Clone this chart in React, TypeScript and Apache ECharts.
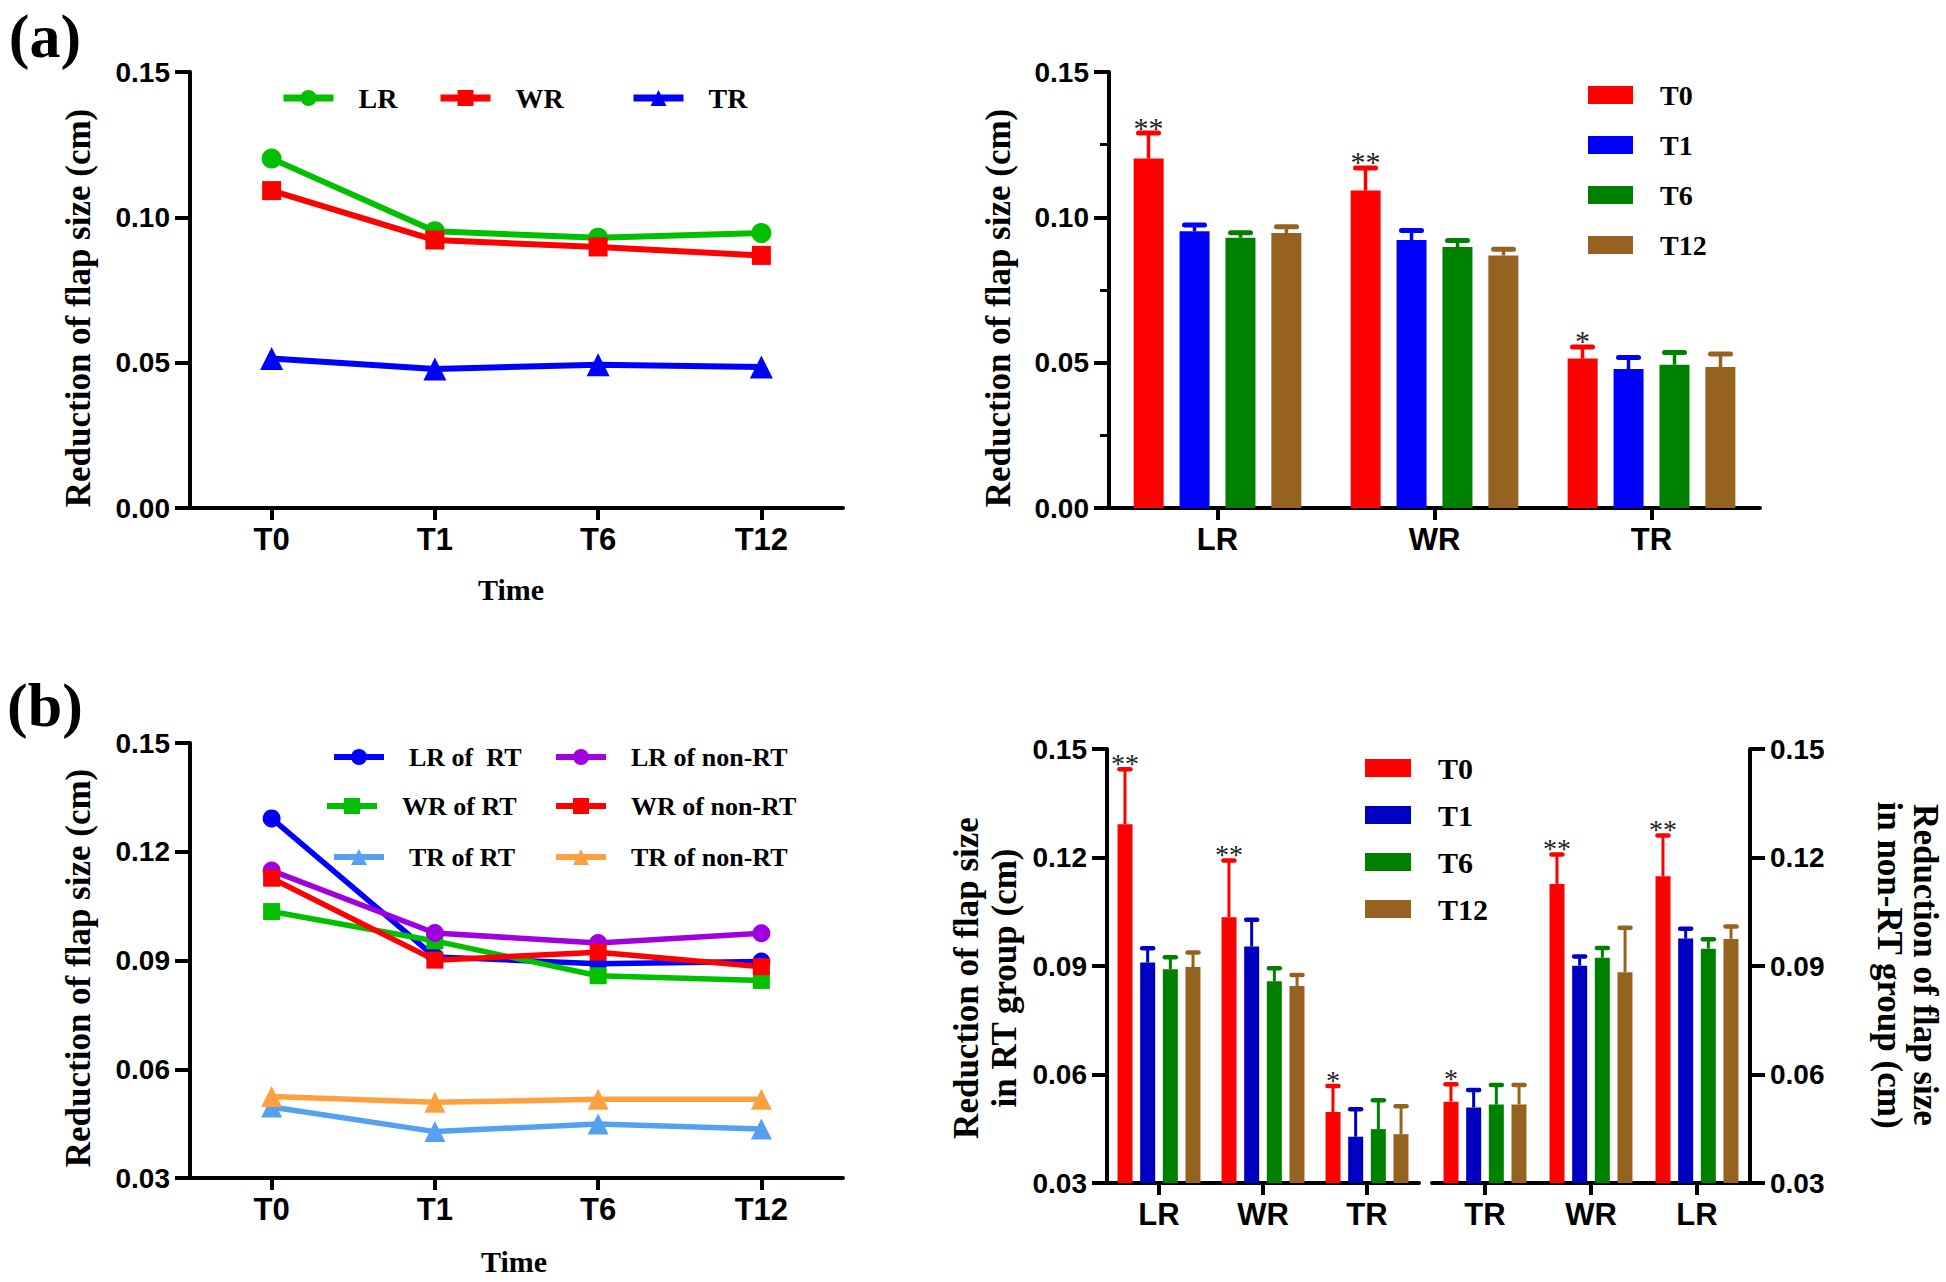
import React, { useEffect, useRef } from 'react';
import * as echarts from 'echarts';

// ---------- data ----------
const timePoints = ['T0', 'T1', 'T6', 'T12'];
const regionsA = ['LR', 'WR', 'TR'];
const regionsRT = ['LR', 'WR', 'TR'];
const regionsNonRT = ['TR', 'WR', 'LR'];
const yRangeA = [0, 0.15, 0.05];
const yRangeB = [0.03, 0.15, 0.03];

// panel (a): means over time
const aLR = [0.1202, 0.0952, 0.093, 0.0946];
const aWR = [0.1092, 0.0922, 0.0898, 0.0869];
const aTR = [0.0514, 0.0478, 0.0493, 0.0485];
// panel (a): error (SD) over time
const aLRsd = [0.0088, 0.0022, 0.0017, 0.0022];
const aWRsd = [0.0078, 0.0033, 0.0022, 0.0021];
const aTRsd = [0.004, 0.004, 0.0042, 0.0045];
const aSig = ['**', '**', '*'];

// panel (b): RT group
const rtLR = [0.1292, 0.091, 0.0891, 0.0897];
const rtWR = [0.1035, 0.0954, 0.0858, 0.0845];
const rtTR = [0.0496, 0.0428, 0.0449, 0.0435];
const rtLRsd = [0.0152, 0.0039, 0.0033, 0.004];
const rtWRsd = [0.0157, 0.0074, 0.0036, 0.003];
const rtTRsd = [0.0072, 0.0076, 0.008, 0.0077];
const rtSig = ['**', '**', '*'];
// panel (b): non-RT group
const nonLR = [0.1148, 0.0976, 0.0948, 0.0975];
const nonWR = [0.1127, 0.0901, 0.0923, 0.0883];
const nonTR = [0.0525, 0.0509, 0.0517, 0.0517];
const nonLRsd = [0.0113, 0.0027, 0.0026, 0.0034];
const nonWRsd = [0.0081, 0.0025, 0.0027, 0.0123];
const nonTRsd = [0.0048, 0.0048, 0.0054, 0.0054];
const nonSig = ['*', '**', '**'];

const lineNamesA = ['LR', 'WR', 'TR'];
const lineNamesB = ['LR of  RT', 'WR of RT', 'TR of RT', 'LR of non-RT', 'WR of non-RT', 'TR of non-RT'];

// ---------- styles ----------
const SANS = '"Liberation Sans", Arial, sans-serif';
const SERIF = '"Liberation Serif", "Times New Roman", serif';
const barColorsA = ['#FF0000', '#0000FF', '#008000', '#956220'];
const barColorsB = ['#FF0000', '#0000C0', '#008000', '#956220'];
const lineColorsA = ['#00C000', '#FF0000', '#0000FF'];
const lineColorsB = ['#0000FF', '#00C000', '#55A0F0', '#A000E0', '#FF0000', '#FFA040'];
const symbolsA = ['circle', 'rect', 'triangle'];
const symbolsB = ['circle', 'rect', 'triangle', 'circle', 'rect', 'triangle'];

const AX = 4;

function xAxisOf(gridIndex: number, data: string[]) {
  return {
    type: 'category', gridIndex, data, boundaryGap: true,
    axisLine: { show: true, lineStyle: { color: '#000', width: AX } },
    axisTick: { show: true, alignWithLabel: true, length: 12, lineStyle: { color: '#000', width: AX } },
    axisLabel: { color: '#000', fontFamily: SANS, fontWeight: 'bold', fontSize: 31, margin: 16 },
    splitLine: { show: false },
  };
}

function yAxisOf(gridIndex: number, range: number[], position = 'left', minor = false) {
  return {
    type: 'value', gridIndex, position, min: range[0], max: range[1], interval: range[2],
    axisLine: { show: true, onZero: false, lineStyle: { color: '#000', width: AX } },
    axisTick: { show: true, length: 15, lineStyle: { color: '#000', width: AX } },
    minorTick: { show: minor, splitNumber: 2, length: 9, lineStyle: { color: '#000', width: 3 } },
    axisLabel: {
      color: '#000', fontFamily: SANS, fontWeight: 'bold', fontSize: 28, margin: 20,
      formatter: (v: number) => v.toFixed(2),
    },
    splitLine: { show: false },
  };
}

function barSeries(name: string, axis: number, values: number[], color: string, bw: number, gap: string) {
  return {
    type: 'bar', name, xAxisIndex: axis, yAxisIndex: axis, data: values,
    barWidth: bw, barGap: gap, itemStyle: { color }, z: 2,
  };
}

function errSeries(axis: number, k: number, values: number[], sd: number[], color: string,
  bw: number, gapPx: number, lw: number, capW: number, sigs: string[] | null, sigSize: number) {
  return {
    type: 'custom', xAxisIndex: axis, yAxisIndex: axis, silent: true, z: 5,
    data: values.map((v, i) => [i, v, sd[i]]),
    encode: { x: 0, y: 1 },
    renderItem: (params: any, api: any) => {
      const i = api.value(0);
      const v = api.value(1);
      const e = api.value(2);
      const base = api.coord([i, v]);
      const top = api.coord([i, v + e]);
      const x = base[0] + (k - 1.5) * (bw + gapPx);
      const children: any[] = [
        { type: 'line', shape: { x1: x, y1: base[1], x2: x, y2: top[1] }, style: { stroke: color, lineWidth: lw } },
        { type: 'line', shape: { x1: x - capW / 2, y1: top[1], x2: x + capW / 2, y2: top[1] }, style: { stroke: color, lineWidth: lw + 1.5, lineCap: 'round' } },
      ];
      const s = sigs ? sigs[params.dataIndex] : '';
      if (s) {
        children.push({
          type: 'text', x, y: top[1] - 6,
          style: {
            text: s, fill: '#222', font: `${sigSize}px ${SERIF}`,
            align: 'center', verticalAlign: 'middle', textAlign: 'center', textVerticalAlign: 'middle',
          },
        });
      }
      return { type: 'group', children };
    },
  };
}

function lineSeries(name: string, values: number[], color: string, symbol: string, size: number, width: number, axis: number) {
  return {
    type: 'line', name, xAxisIndex: axis, yAxisIndex: axis, data: values,
    symbol, symbolSize: symbol === 'triangle' ? size + 3 : symbol === 'rect' ? size - 1 : size,
    lineStyle: { color, width }, itemStyle: { color }, z: 3,
  };
}

function lineLegend(name: string, left: number, cy: number, fs: number, lw: number) {
  return {
    data: [name], left, top: cy - fs / 2, orient: 'horizontal', padding: 0,
    itemWidth: 50, itemHeight: 20, itemGap: 0, selectedMode: false,
    lineStyle: { width: lw },
    textStyle: { fontFamily: SERIF, fontWeight: 'bold', fontSize: fs, color: '#000', padding: [0, 0, 0, 20] },
  };
}

function txt(text: string, x: number, y: number, size: number, rotation = 0, weight = 'bold') {
  return {
    type: 'text', x, y, rotation,
    style: {
      text, fill: '#000', font: `${weight} ${size}px ${SERIF}`,
      align: 'center', verticalAlign: 'middle', textAlign: 'center', textVerticalAlign: 'middle',
    },
  };
}

function buildOption() {
  const series: any[] = [];
  // (a) left lines
  const aLines = [aLR, aWR, aTR];
  aLines.forEach((vals, j) => series.push(lineSeries(lineNamesA[j], vals, lineColorsA[j], symbolsA[j], 20, 6, 0)));
  // (a) right bars
  const aSD = [aLRsd, aWRsd, aTRsd];
  timePoints.forEach((t, k) => {
    const vals = aLines.map((arr) => arr[k]);
    const sds = aSD.map((arr) => arr[k]);
    series.push(barSeries(t, 1, vals, barColorsA[k], 30, '53%'));
    series.push(errSeries(1, k, vals, sds, barColorsA[k], 30, 16, 3.5, 20, k === 0 ? aSig : null, 30));
  });
  // (b) left lines
  const bLines = [rtLR, rtWR, rtTR, nonLR, nonWR, nonTR];
  bLines.forEach((vals, j) => series.push(lineSeries(lineNamesB[j], vals, lineColorsB[j], symbolsB[j], 18, 5.5, 2)));
  // (b) right bars
  const rtArr = [rtLR, rtWR, rtTR];
  const rtSD = [rtLRsd, rtWRsd, rtTRsd];
  const nonArr = [nonTR, nonWR, nonLR];
  const nonSD = [nonTRsd, nonWRsd, nonLRsd];
  timePoints.forEach((t, k) => {
    const v1 = rtArr.map((arr) => arr[k]);
    const s1 = rtSD.map((arr) => arr[k]);
    series.push(barSeries(t, 3, v1, barColorsB[k], 15, '51%'));
    series.push(errSeries(3, k, v1, s1, barColorsB[k], 15, 7.7, 3, 11, k === 0 ? rtSig : null, 28));
    const v2 = nonArr.map((arr) => arr[k]);
    const s2 = nonSD.map((arr) => arr[k]);
    series.push(barSeries(t, 4, v2, barColorsB[k], 15, '51%'));
    series.push(errSeries(4, k, v2, s2, barColorsB[k], 15, 7.7, 3, 11, k === 0 ? nonSig : null, 28));
  });

  const legends: any[] = [
    lineLegend('LR', 280, 98, 28, 7),
    lineLegend('WR', 437, 98, 28, 7),
    lineLegend('TR', 630, 98, 28, 7),
    lineLegend(lineNamesB[0], 331, 757, 26, 6),
    lineLegend(lineNamesB[1], 324, 806, 26, 6),
    lineLegend(lineNamesB[2], 331, 857, 26, 6),
    lineLegend(lineNamesB[3], 553, 757, 26, 6),
    lineLegend(lineNamesB[4], 553, 806, 26, 6),
    lineLegend(lineNamesB[5], 553, 857, 26, 6),
    {
      data: timePoints.map((t, k) => ({ name: t, itemStyle: { color: barColorsA[k] } })),
      orient: 'vertical', left: 1588, top: 95 - 14, padding: 0, itemWidth: 45, itemHeight: 18, itemGap: 22,
      icon: 'rect', selectedMode: false,
      textStyle: { fontFamily: SERIF, fontWeight: 'bold', fontSize: 28, color: '#000', padding: [0, 0, 0, 22] },
    },
    {
      data: timePoints.map((t, k) => ({ name: t, itemStyle: { color: barColorsB[k] } })),
      orient: 'vertical', left: 1365, top: 768 - 15, padding: 0, itemWidth: 46, itemHeight: 18, itemGap: 17,
      icon: 'rect', selectedMode: false,
      textStyle: { fontFamily: SERIF, fontWeight: 'bold', fontSize: 30, color: '#000', padding: [0, 0, 0, 22] },
    },
  ];

  return {
    animation: false,
    backgroundColor: '#fff',
    grid: [
      { left: 190, top: 72, width: 653, height: 436 },
      { left: 1109, top: 72, width: 651, height: 436 },
      { left: 190, top: 743, width: 653, height: 435 },
      { left: 1107, top: 749, width: 312, height: 434 },
      { left: 1432, top: 749, width: 318, height: 434 },
    ],
    xAxis: [
      xAxisOf(0, timePoints),
      xAxisOf(1, regionsA),
      xAxisOf(2, timePoints),
      xAxisOf(3, regionsRT),
      xAxisOf(4, regionsNonRT),
    ],
    yAxis: [
      yAxisOf(0, yRangeA),
      yAxisOf(1, yRangeA, 'left', true),
      yAxisOf(2, yRangeB),
      yAxisOf(3, yRangeB),
      yAxisOf(4, yRangeB, 'right'),
    ],
    legend: legends,
    series,
    graphic: [
      txt('(a)', 45, 36, 62),
      txt('(b)', 45, 705, 62),
      txt('Reduction of flap size (cm)', 78, 308, 35, Math.PI / 2),
      txt('Reduction of flap size (cm)', 998, 308, 35, Math.PI / 2),
      txt('Time', 511, 589, 30),
      txt('Reduction of flap size (cm)', 78, 968, 35, Math.PI / 2),
      txt('Time', 514, 1261, 30),
      txt('Reduction of flap size', 966, 978, 35, Math.PI / 2),
      txt('in RT group (cm)', 1004, 978, 35, Math.PI / 2),
      txt('Reduction of flap size', 1925, 965, 35, -Math.PI / 2),
      txt('in non-RT group (cm)', 1889, 965, 35, -Math.PI / 2),
    ],
  };
}

export default function App() {
  const ref = useRef<HTMLDivElement>(null);
  useEffect(() => {
    document.body.style.margin = '0';
    const chart = echarts.init(ref.current as HTMLDivElement, undefined, { renderer: 'svg' });
    chart.setOption(buildOption() as any);
    return () => chart.dispose();
  }, []);
  return <div ref={ref} style={{ width: 1946, height: 1282, background: '#fff' }} />;
}
